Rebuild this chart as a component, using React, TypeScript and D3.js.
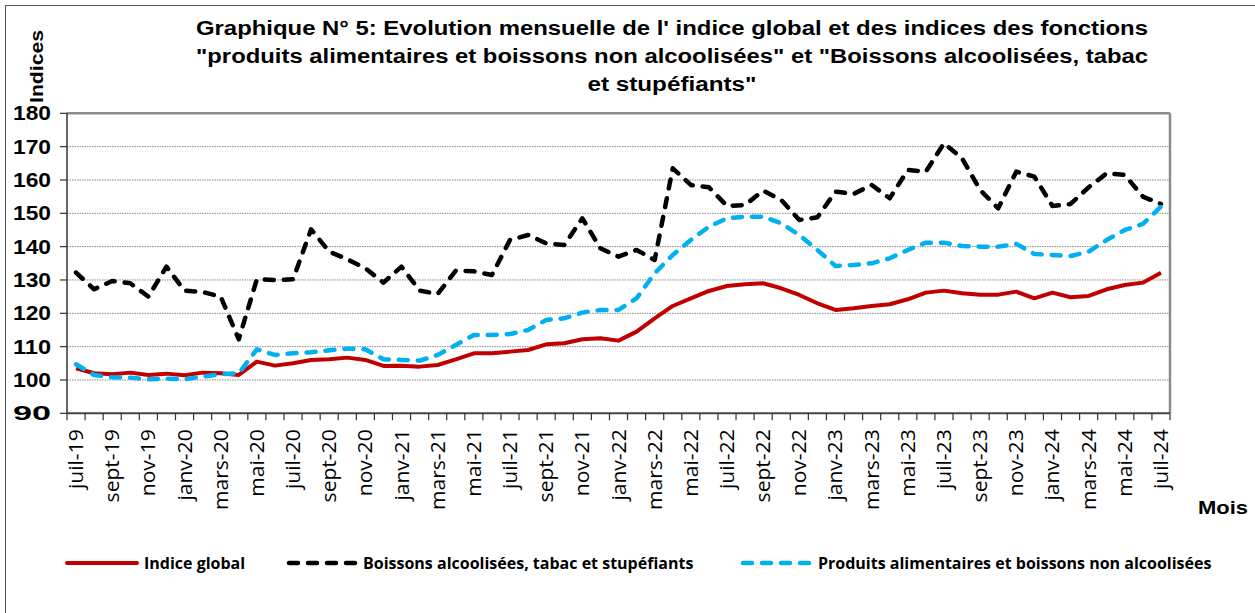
import React from 'react';
import * as d3 from 'd3';

const months = [
  'juil-19', 'août-19', 'sept-19', 'oct-19', 'nov-19', 'déc-19',
  'janv-20', 'févr-20', 'mars-20', 'avr-20', 'mai-20', 'juin-20', 'juil-20', 'août-20', 'sept-20', 'oct-20', 'nov-20', 'déc-20',
  'janv-21', 'févr-21', 'mars-21', 'avr-21', 'mai-21', 'juin-21', 'juil-21', 'août-21', 'sept-21', 'oct-21', 'nov-21', 'déc-21',
  'janv-22', 'févr-22', 'mars-22', 'avr-22', 'mai-22', 'juin-22', 'juil-22', 'août-22', 'sept-22', 'oct-22', 'nov-22', 'déc-22',
  'janv-23', 'févr-23', 'mars-23', 'avr-23', 'mai-23', 'juin-23', 'juil-23', 'août-23', 'sept-23', 'oct-23', 'nov-23', 'déc-23',
  'janv-24', 'févr-24', 'mars-24', 'avr-24', 'mai-24', 'juin-24', 'juil-24',
];

// labels shown on the axis (every other month)
const tickLabels = months.filter((_, i) => i % 2 === 0);

const indiceGlobal = [
  103.5, 102, 101.7, 102.2, 101.5, 101.9, 101.4, 102.2, 102, 101.5,
  105.5, 104.3, 105, 106, 106.2, 106.7, 106, 104.2, 104.3, 104,
  104.5, 106.2, 108, 108, 108.5, 109, 110.7, 111, 112.2, 112.5,
  111.8, 114.5, 118.5, 122.2, 124.5, 126.7, 128.2, 128.7, 129, 127.5,
  125.5, 123, 121, 121.5, 122.2, 122.7, 124.2, 126.2, 126.8, 126,
  125.6, 125.6, 126.5, 124.5, 126.2, 124.8, 125.2, 127.2, 128.5, 129.2,
  132.2,
];

const boissonsAlcool = [
  132.2, 127.2, 129.7, 129, 125, 134, 126.8, 126.4, 125, 112.2,
  130.2, 130, 130.2, 145.2, 138.5, 136.2, 133.5, 129.2, 134, 126.8,
  125.8, 132.8, 132.6, 131.5, 142, 143.5, 141, 140.5, 148.5, 139.5,
  137, 139, 136, 163.5, 158.5, 157.8, 152.2, 152.5, 156.8, 154,
  148, 148.8, 156.5, 155.8, 158.5, 154.5, 163, 162.5, 171, 166.5,
  157, 151.5, 162.5, 161, 152.2, 152.8, 157.8, 162, 161.5, 155,
  152.8,
];

const produitsAlim = [
  104.7, 101.5, 100.8, 100.7, 100.2, 100.4, 100.2, 101, 101.7, 102,
  109.2, 107.5, 108, 108.3, 108.9, 109.4, 109.2, 106.2, 106, 105.8,
  107.5, 110.5, 113.5, 113.5, 113.8, 115, 118, 118.5, 120.2, 121,
  121, 124.5, 132, 137.5, 142, 146, 148.5, 149, 149, 147,
  143.5, 139, 134.2, 134.5, 135, 136.5, 139, 141.2, 141.2, 140.2,
  140, 140, 140.8, 137.8, 137.5, 137.2, 138.5, 142, 145, 146.8,
  152,
];

const titleLines = [
  "Graphique N° 5: Evolution mensuelle de l' indice global et des indices des fonctions",
  '"produits alimentaires et boissons non alcoolisées" et "Boissons alcoolisées, tabac',
  'et stupéfiants"',
];

const series = [
  { name: 'Indice global', values: indiceGlobal, color: '#C00000', dash: null, width: 4 },
  { name: 'Boissons alcoolisées, tabac et stupéfiants', values: boissonsAlcool, color: '#000000', dash: '9,10', width: 4.5 },
  { name: 'Produits alimentaires et boissons non alcoolisées', values: produitsAlim, color: '#00B0F0', dash: '9,10', width: 4.5 },
];

const W = 1255;
const H = 613;
const plot = { left: 67, right: 1170, top: 113.3, bottom: 413.3 };

export default function App() {
  const x = d3.scaleBand<string>().domain(months).range([plot.left, plot.right]);
  const y = d3.scaleLinear().domain([90, 180]).range([plot.bottom, plot.top]);
  const cx = (m: string) => (x(m) as number) + x.bandwidth() / 2;

  const line = d3.line<number>()
    .x((_, i) => cx(months[i]))
    .y(d => y(d));

  const yTicks = y.ticks(9);
  const tickEdges = months.map(m => x(m) as number).concat([plot.right]);

  const sans = '"Liberation Sans", Arial, sans-serif';
  const cal = '"Open Sans", sans-serif';

  const legendItems = [
    { s: series[0], x1: 67, x2: 137, tx: 144 },
    { s: series[1], x1: 289, x2: 356, tx: 363 },
    { s: series[2], x1: 743, x2: 810, tx: 818 },
  ];

  return (
    <svg width={W} height={H} style={{ position: 'absolute', left: 0, top: 0, background: '#fff' }}>
      <rect x={5.5} y={5.5} width={1252} height={610} fill="#fff" stroke="#555" strokeWidth={1} />

      {/* title */}
      {titleLines.map((t, i) => (
        <text key={i} x={672} y={35 + i * 28} textAnchor="middle"
          fontFamily={sans} fontWeight="bold" fontSize={19.5}
          textLength={i === 2 ? 169 : 952} lengthAdjust="spacingAndGlyphs">{t}</text>
      ))}

      {/* y axis title */}
      <text transform="translate(43,103) rotate(-90)" fontFamily={sans} fontWeight="bold" fontSize={19}
        textLength={73} lengthAdjust="spacingAndGlyphs">Indices</text>

      {/* grid */}
      {yTicks.filter(t => t > 90 && t < 180).map(t => (
        <line key={t} x1={plot.left} x2={plot.right} y1={y(t)} y2={y(t)}
          stroke="#8a8a8a" strokeWidth={1} strokeDasharray="1.5,1" />
      ))}

      {/* plot frame */}
      <line x1={plot.left} x2={plot.right} y1={plot.top} y2={plot.top} stroke="#8c8c8c" strokeWidth={2.5} />
      <line x1={plot.right} x2={plot.right} y1={plot.top} y2={plot.bottom} stroke="#8c8c8c" strokeWidth={2.5} />

      {/* series */}
      {series.map(s => (
        <path key={s.name} d={line(s.values) || ''} fill="none" stroke={s.color}
          strokeWidth={s.width} strokeDasharray={s.dash || undefined}
          strokeLinecap={s.dash ? 'round' : 'butt'} strokeLinejoin="round" />
      ))}

      {/* y axis */}
      <line x1={plot.left} x2={plot.left} y1={plot.top} y2={plot.bottom} stroke="#333" strokeWidth={1.5} />
      {yTicks.map(t => (
        <g key={t}>
          <line x1={plot.left - 7} x2={plot.left} y1={y(t)} y2={y(t)} stroke="#333" strokeWidth={1.2} />
          <text x={51} y={y(t) + 7} textAnchor="end" fontFamily={sans} fontWeight="bold" fontSize={20}
            textLength={38} lengthAdjust="spacingAndGlyphs">{t}</text>
        </g>
      ))}

      {/* x axis */}
      <line x1={plot.left} x2={plot.right} y1={plot.bottom} y2={plot.bottom} stroke="#444" strokeWidth={2} />
      {tickEdges.map((e, i) => (
        <line key={i} x1={e} x2={e} y1={plot.bottom} y2={plot.bottom + 7} stroke="#333" strokeWidth={1.2} />
      ))}
      {tickLabels.map(m => (
        <text key={m} transform={`translate(${cx(m) + 7},${plot.bottom + 16}) rotate(-90) scale(1.08,1)`}
          textAnchor="end" fontFamily={cal} fontSize={19.5}>{m}</text>
      ))}
      <text x={1198} y={514} fontFamily={sans} fontWeight="bold" fontSize={19}
        textLength={50} lengthAdjust="spacingAndGlyphs">Mois</text>

      {/* legend */}
      {legendItems.map(({ s, x1, x2, tx }) => (
        <g key={s.name}>
          <line x1={x1} x2={x2} y1={563} y2={563} stroke={s.color} strokeWidth={s.width}
            strokeDasharray={s.dash || undefined} strokeLinecap="round" />
          <text x={tx} y={569} fontFamily={cal} fontWeight="bold" fontSize={16}>{s.name}</text>
        </g>
      ))}
    </svg>
  );
}
